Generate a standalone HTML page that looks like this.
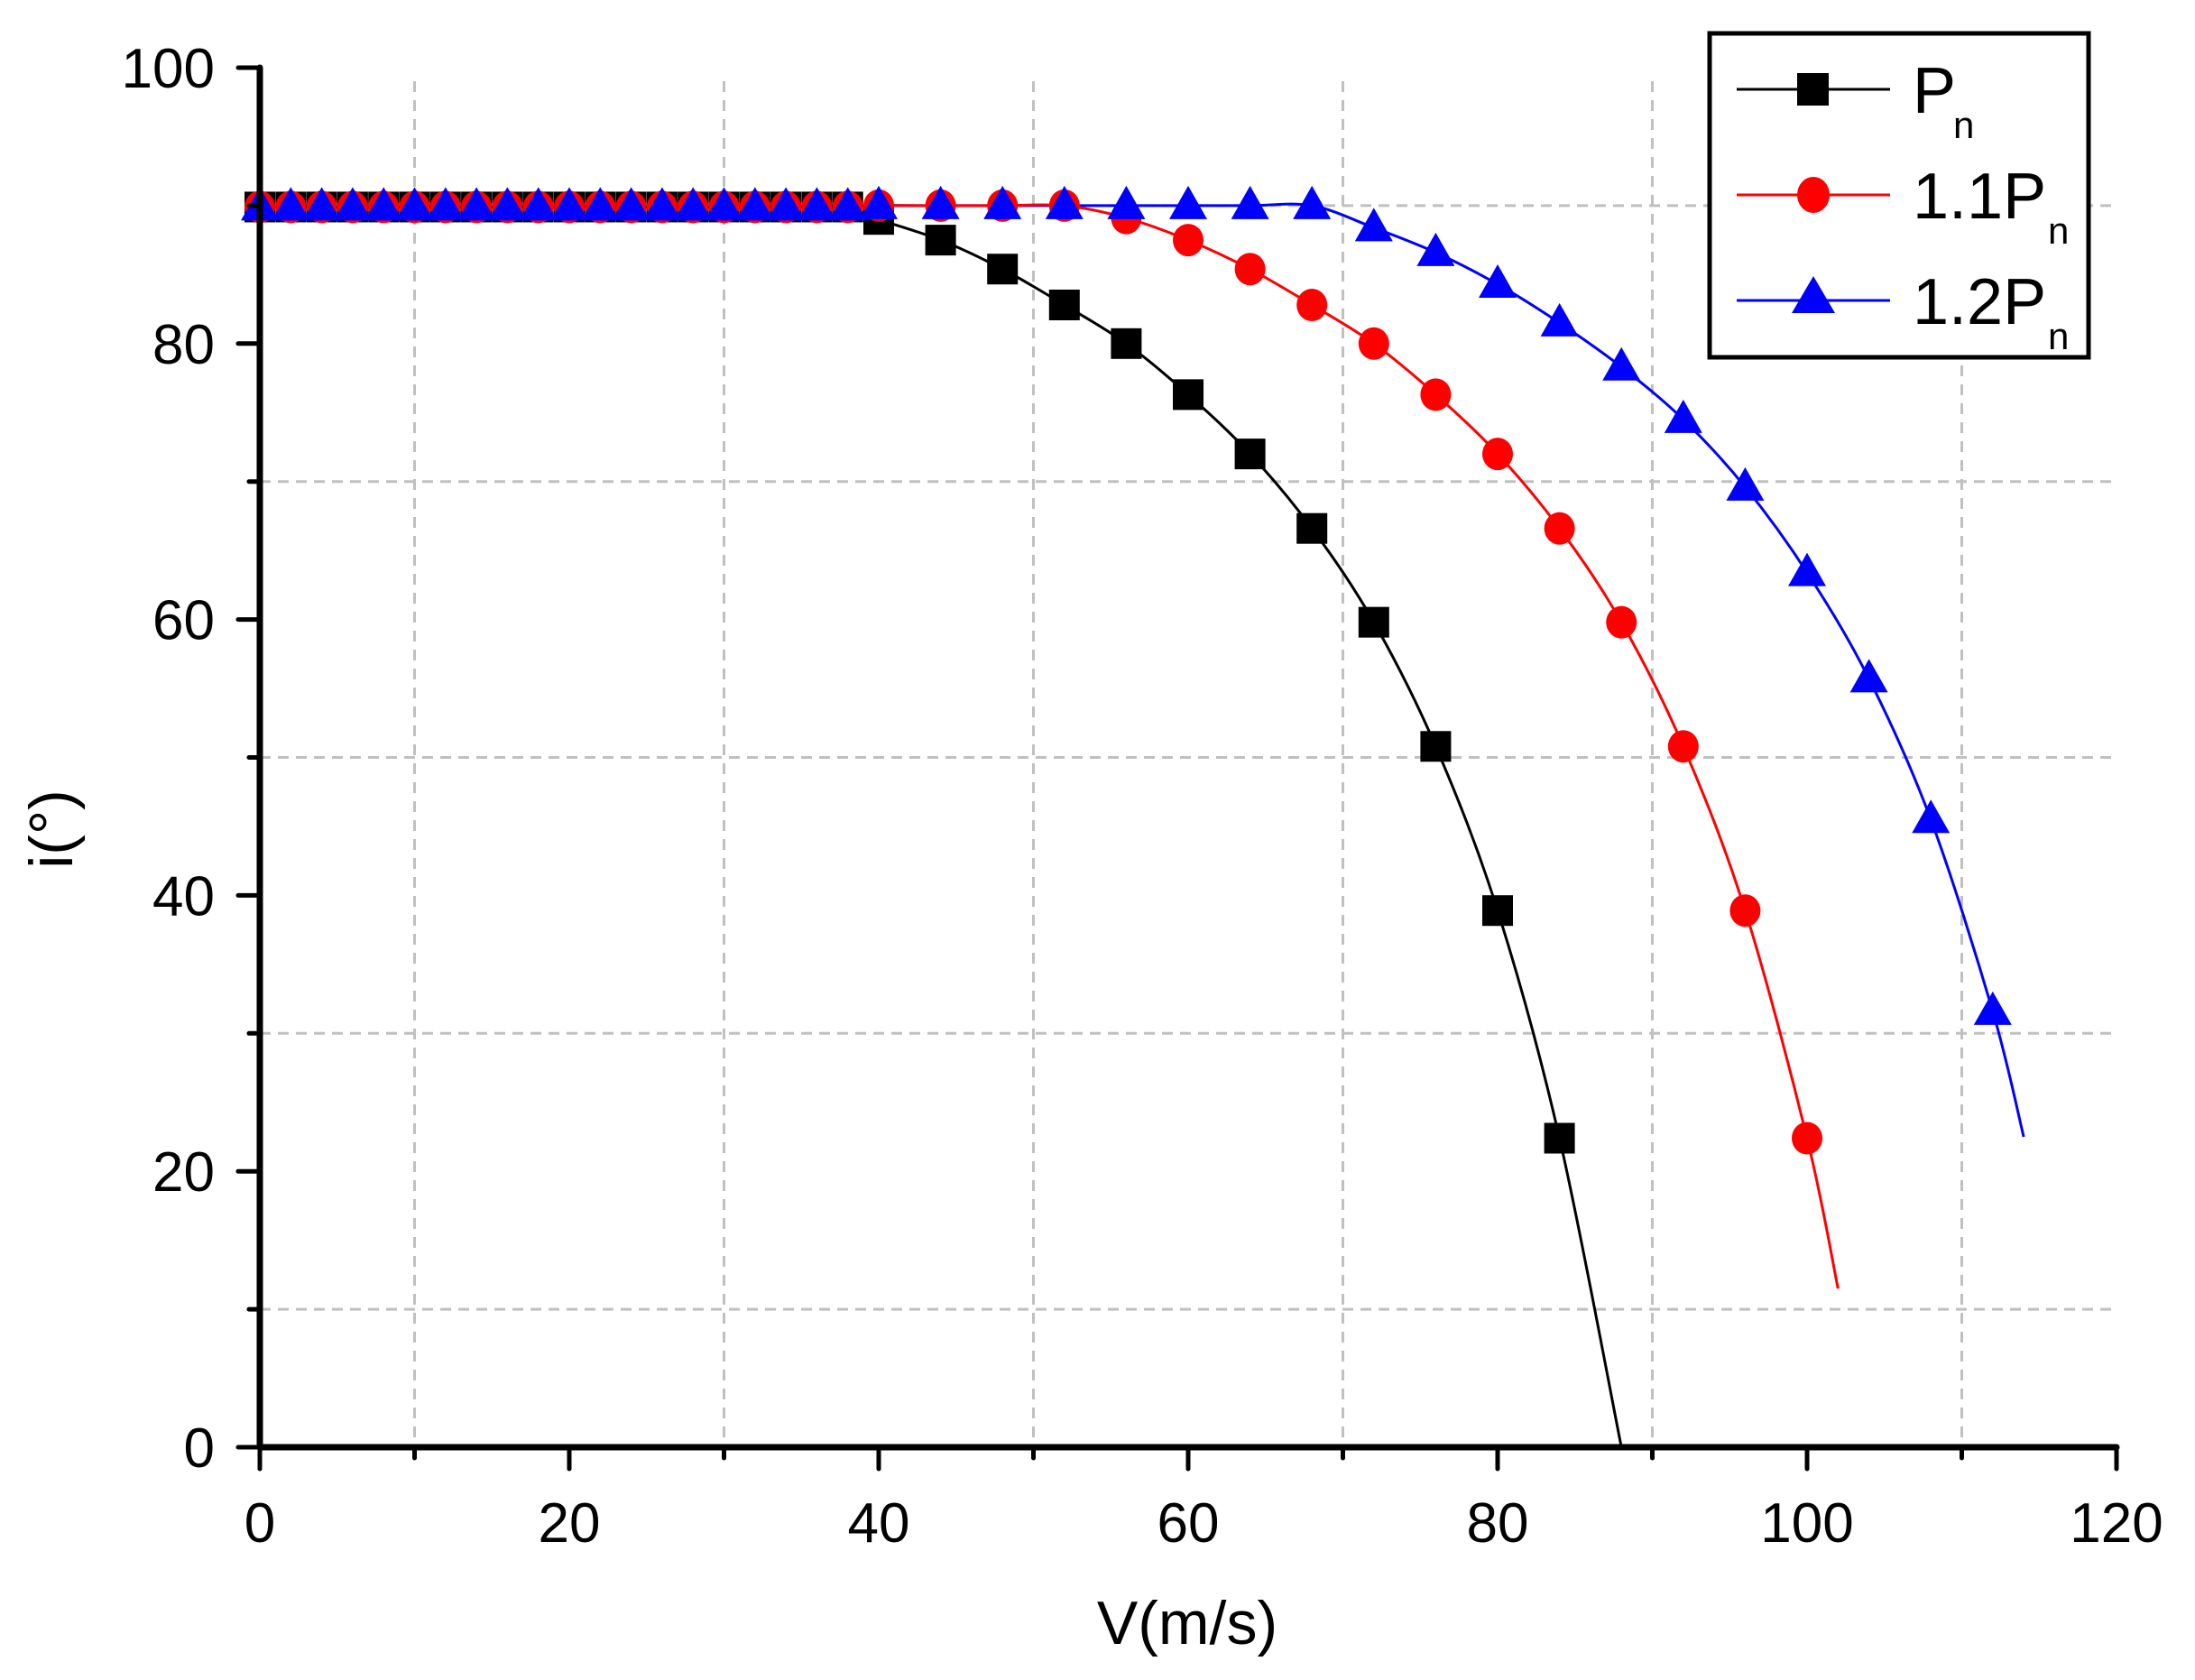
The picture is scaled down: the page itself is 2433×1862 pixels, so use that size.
<!DOCTYPE html>
<html><head><meta charset="utf-8"><style>
html,body{margin:0;padding:0;background:#fff;width:2433px;height:1862px;overflow:hidden}
text{font-family:"Liberation Sans",Arial,sans-serif}
</style></head><body>
<svg id="s" width="2433" height="1862" viewBox="0 0 2433 1862" xmlns="http://www.w3.org/2000/svg">
<g id="grid" stroke="#c0c0c0" stroke-width="3" stroke-dasharray="12,9" fill="none"></g>
<g id="curves" fill="none" stroke-width="3"></g>
<g id="marks"></g>
<g id="axes" stroke="#000" stroke-width="7" fill="none" stroke-linecap="round"></g>
<g id="labels" font-size="62" fill="#000"></g>
<text x="1316" y="1822" font-size="68" text-anchor="middle">V(m/s)</text>
<text transform="translate(80,919) rotate(-90)" font-size="68" text-anchor="middle">i(°)</text>
<rect x="1895" y="37" width="420" height="359" fill="#fff" stroke="#000" stroke-width="5"/>
<line x1="1925" y1="99" x2="2095" y2="99" stroke="#000" stroke-width="3"/>
<rect x="1992" y="81" width="35" height="36" fill="#000"/>
<text x="2120" y="125" font-size="72">P</text><text x="2165" y="153" font-size="42">n</text>
<line x1="1925" y1="216" x2="2095" y2="216" stroke="#f00" stroke-width="3"/>
<ellipse cx="2010" cy="216" rx="18" ry="20" fill="#f00"/>
<text x="2120" y="242" font-size="72">1.1P</text><text x="2270" y="270" font-size="42">n</text>
<line x1="1925" y1="333" x2="2095" y2="333" stroke="#00f" stroke-width="3"/>
<polygon points="2010,306 2034,347 1986,347" fill="#00f"/>
<text x="2120" y="359" font-size="72">1.2P</text><text x="2270" y="387" font-size="42">n</text>
</svg>
<script>
var X0=288,UX=17.15,Y0=1604,UY=15.29;
function px(v){return X0+v*UX} function py(v){return Y0-v*UY}
var ns="http://www.w3.org/2000/svg";
function el(p,t,a){var e=document.createElementNS(ns,t);for(var k in a)e.setAttribute(k,a[k]);document.getElementById(p).appendChild(e);return e}
[10,30,50,70,90,110].forEach(function(v){el('grid','line',{x1:px(v),y1:py(100)+15,x2:px(v),y2:Y0})});
[10,30,50,70,90].forEach(function(v){el('grid','line',{x1:X0,y1:py(v),x2:px(120),y2:py(v),'stroke-dasharray':'12,8'})});
el('axes','line',{x1:X0,y1:py(100),x2:X0,y2:Y0});
el('axes','line',{x1:X0,y1:Y0,x2:px(120),y2:Y0});
for(var v=0;v<=120;v+=10){var L=v%20?12:24;el('axes','line',{x1:px(v),y1:Y0,x2:px(v),y2:Y0+L,'stroke-width':5});
 if(v%20==0){var t=el('labels','text',{x:px(v),y:1709,'text-anchor':'middle'});t.textContent=v;}}
for(var v=0;v<=100;v+=10){var L=v%20?12:24;el('axes','line',{x1:X0,y1:py(v),x2:X0-L,y2:py(v),'stroke-width':5});
 if(v%20==0){var t=el('labels','text',{x:238,y:py(v)+22,'text-anchor':'end'});t.textContent=v;}}
function flat(end){var a=[];for(var v=0;v<=38;v+=2)a.push([v,89.9]);for(var v=40;v<=end;v+=4)a.push([v,90]);return a}
var black=flat(36).concat([[40,89],[44,87.5],[48,85.4],[52,82.8],[56,80],[60,76.3],[64,72],[68,66.6],[72,59.8],[76,50.8],[80,38.9],[84,22.4]]);
var red=flat(52).concat([[56,89.1],[60,87.5],[64,85.4],[68,82.8],[72,80],[76,76.3],[80,72],[84,66.6],[88,59.8],[92,50.8],[96,38.9],[100,22.4]]);
var blue=flat(68).concat([[72,88.4],[76,86.6],[80,84.3],[84,81.5],[88,78.3],[92,74.5],[96,69.6],[100,63.4],[104,55.7],[108,45.5],[112,31.6]]);
function path(pts,col){var p=pts.map(function(q){return[px(q[0]),py(q[1])]});var d='M'+p[0][0]+','+p[0][1];
 for(var i=0;i<p.length-1;i++){var a=p[i-1]||p[i],b=p[i],c=p[i+1],e=p[i+2]||c;
 d+=' C'+(b[0]+(c[0]-a[0])/6)+','+(b[1]+(c[1]-a[1])/6)+' '+(c[0]-(e[0]-b[0])/6)+','+(c[1]-(e[1]-b[1])/6)+' '+c[0]+','+c[1];}
 el('curves','path',{d:d,stroke:col});}
path(blue.concat([[114,22.5]]),'#00f');
path(red.concat([[102,11.5]]),'#f00');
path(black.concat([[88,0]]),'#000');
black.forEach(function(q){el('marks','rect',{x:px(q[0])-17,y:py(q[1])-17,width:34,height:34,fill:'#000'})});
red.forEach(function(q){el('marks','ellipse',{cx:px(q[0]),cy:py(q[1]),rx:17,ry:18,fill:'#f00'})});
blue.forEach(function(q){var x=px(q[0]),y=py(q[1]);el('marks','polygon',{points:x+','+(y-22)+' '+(x+21)+','+(y+15)+' '+(x-21)+','+(y+15),fill:'#00f'})});
</script>
</body></html>
